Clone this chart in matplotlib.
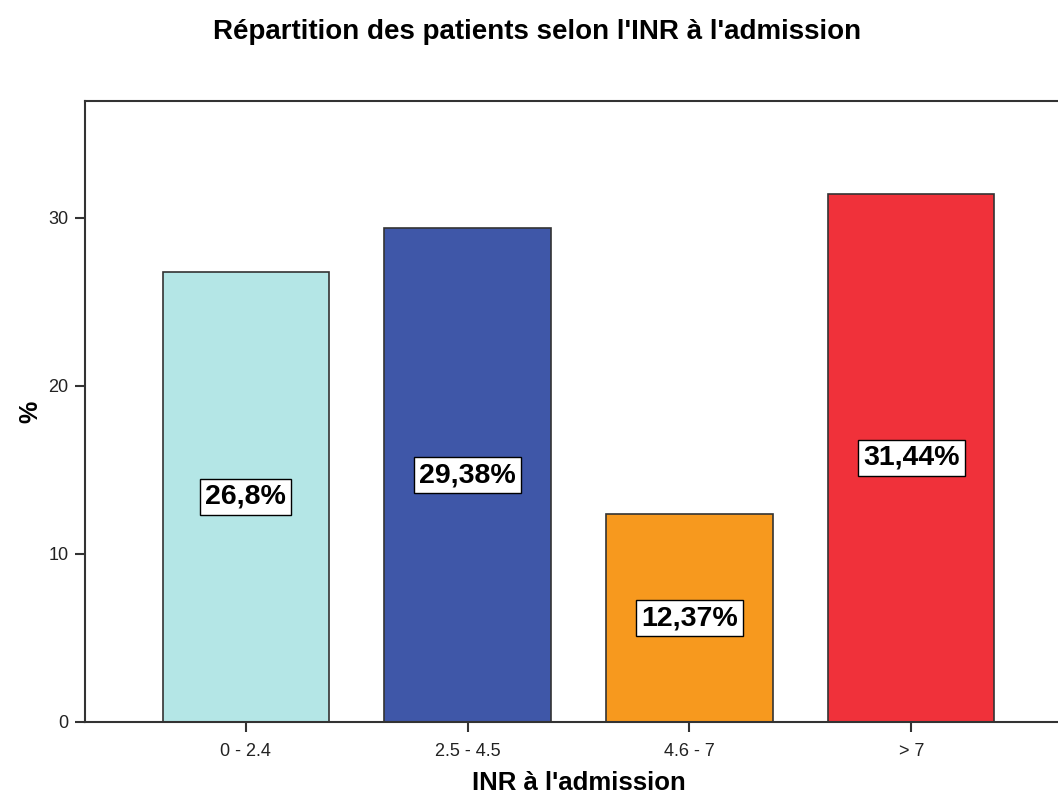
import matplotlib.pyplot as plt

categories = ["0 - 2.4", "2.5 - 4.5", "4.6 - 7", "> 7"]
percents = [26.8, 29.38, 12.37, 31.44]
value_labels = ["26,8%", "29,38%", "12,37%", "31,44%"]
colors = ["#b4e6e6", "#3f57a8", "#f7991e", "#f0313a"]

plt.rcParams["font.family"] = ["Liberation Sans", "DejaVu Sans"]

fig = plt.figure(figsize=(10.58, 7.96), dpi=100)
# axes runs a little past the right edge of the figure
ax = fig.add_axes([85 / 1058, 74 / 796, 987 / 1058, 621 / 796])

x = list(range(len(categories)))
ax.bar(x, percents, width=0.75, color=colors, edgecolor="#333333", linewidth=1.2)

for xi, v, lab in zip(x, percents, value_labels):
    ax.text(xi, v / 2, lab, ha="center", va="center", fontsize=20.5, fontweight="bold",
            bbox=dict(boxstyle="square,pad=0.18", facecolor="white", edgecolor="black", linewidth=1))

ax.set_xlim(-0.725, 3.725)
ax.set_ylim(0, 36.96)
ax.set_xticks(x)
ax.set_xticklabels(categories, color="#222222")
ax.set_yticks([0, 10, 20, 30])
ax.tick_params(axis="both", direction="out", length=7, width=1.5, color="#333333",
               labelsize=13, labelcolor="#222222")
ax.tick_params(axis="x", pad=8)
ax.tick_params(axis="y", pad=5)

for side in ["left", "bottom", "top", "right"]:
    ax.spines[side].set_linewidth(1.5)
    ax.spines[side].set_color("#333333")

ax.set_xlabel("INR à l'admission", fontsize=18.5, fontweight="bold", labelpad=8)
ax.set_ylabel("%", fontsize=18, fontweight="bold", labelpad=4)
fig.text(537 / 1058, 1 - 32 / 796, "Répartition des patients selon l'INR à l'admission",
         ha="center", va="center", fontsize=20, fontweight="bold")

fig.savefig("out.png", dpi=100)
